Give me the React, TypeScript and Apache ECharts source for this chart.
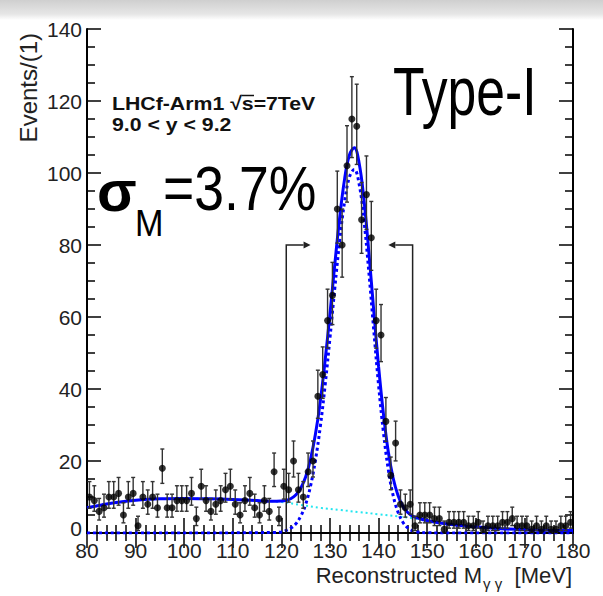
import React, { useEffect, useRef } from 'react';
import * as echarts from 'echarts';

// ---- data ----
const binStart = 80;
const binWidth = 1;
// events per 1 MeV bin, bins 80-81 ... 179-180
const counts = [
  10, 9, 6, 7, 10, 10, 11, 5, 10, 11,
  2, 10, 8, 10, 7, 18, 7, 7, 9, 9,
  9, 11, 4, 13, 9, 6, 8, 9, 12, 13,
  8, 5, 9, 11, 7, 5, 9, 6, 17, 4,
  13, 12, 20, 12, 10, 17, 20, 38, 44, 59,
  66, 90, 80, 102, 115, 113, 87, 94, 82, 59,
  55, 31, 16, 25, 8, 7, 8, 2, 5, 5,
  5, 4, 4, 1, 3, 3, 3, 3, 2, 2,
  3, 1, 2, 2, 2, 3, 3, 4, 2, 2,
  2, 1, 2, 1, 2, 1, 1, 2, 2, 3,
];

// background component (cyan dotted)
const bgX = [80, 83, 86, 90, 95, 100, 105, 110, 115, 120, 124, 128, 132, 136, 140, 144, 147, 150, 153, 156, 160, 165, 170, 175, 180];
const bgY = [7.0, 7.8, 8.5, 9.1, 9.5, 9.6, 9.5, 9.3, 9.0, 8.6, 7.8, 7.0, 6.4, 5.8, 5.2, 4.6, 4.1, 3.4, 2.7, 2.2, 1.7, 1.2, 0.9, 0.75, 0.7];

// signal component (blue dotted)
const sigX = [80, 100, 119, 120, 121, 122, 123, 124, 125, 126, 127, 128, 129, 130, 131, 132, 133, 134, 135, 136, 137, 138, 139, 140, 141, 142, 143, 144, 145, 146, 147, 148, 150, 160, 180];
const sigY = [0, 0, 0.15, 0.3, 0.7, 1.4, 2.6, 4.7, 8.0, 13.1, 20.2, 29.5, 41.1, 54.3, 68.2, 81.3, 92.0, 98.9, 101.0, 96.9, 86.7, 72.4, 56.4, 41.0, 27.9, 17.6, 10.4, 5.8, 3.0, 1.4, 0.6, 0.3, 0.05, 0, 0];

// total fit (blue solid)
const totX = [80, 83, 86, 90, 95, 100, 105, 110, 115, 118, 120, 121, 122, 123, 124, 125, 126, 127, 128, 129, 130, 131, 132, 133, 134, 135, 136, 137, 138, 139, 140, 141, 142, 143, 144, 145, 146, 147, 148, 150, 153, 156, 160, 165, 170, 175, 180];
const totY = [7.0, 7.8, 8.5, 9.1, 9.5, 9.6, 9.5, 9.3, 9.0, 8.8, 8.9, 9.1, 9.6, 10.6, 12.5, 15.6, 20.5, 27.4, 36.5, 48.0, 61.0, 74.8, 87.7, 98.3, 105.0, 107.0, 102.7, 92.4, 77.9, 61.8, 46.2, 33.0, 22.5, 15.2, 10.4, 7.4, 5.7, 4.7, 4.2, 3.45, 2.7, 2.2, 1.7, 1.2, 0.9, 0.75, 0.7];

// signal window markers
const windowEdges = [121, 147];
const windowDirs = [1, -1];
const windowHeight = 80;
const arrowLength = 5;

// axes
const xMin = 80, xMax = 180, xStep = 10;
const yMin = 0, yMax = 140, yStep = 20;

const FONT = 'Liberation Sans, Arial, Helvetica, sans-serif';

function poissonLow(n: number) {
  return n - Math.sqrt(Math.max(n - 0.25, 0));
}
function poissonHigh(n: number) {
  return n + 1 + Math.sqrt(n + 0.75);
}

export default function App() {
  const ref = useRef<HTMLDivElement>(null);

  useEffect(() => {
    if (!ref.current) return;
    const chart = echarts.init(ref.current, undefined, { renderer: 'svg' });

    const points = counts.map((c, i) => [binStart + binWidth * (i + 0.5), c]);
    const errs = counts.map((c, i) => [binStart + binWidth * (i + 0.5), poissonLow(c), poissonHigh(c)]);
    const pair = (xs: number[], ys: number[]) => xs.map((x, i) => [x, ys[i]]);
    const windowData = windowEdges.map((x, i) => [x, windowHeight, windowDirs[i]]);

    const axisLine = { show: true, lineStyle: { color: '#000', width: 2 } };
    const xTick = { show: true, inside: true, length: 15, lineStyle: { color: '#000', width: 1.5 } };
    const xMinor = { show: true, splitNumber: 5, length: 8, lineStyle: { color: '#000', width: 1.5 } };
    const yTick = { show: true, inside: true, length: 14, lineStyle: { color: '#000', width: 1.5 } };
    const yMinor = { show: true, splitNumber: 4, length: 8, lineStyle: { color: '#000', width: 1.5 } };

    const option: any = {
      animation: false,
      backgroundColor: '#fff',
      textStyle: { fontFamily: FONT },
      grid: { left: 87, top: 29, width: 486, height: 504, containLabel: false },
      xAxis: [
        {
          type: 'value', min: xMin, max: xMax, interval: xStep, position: 'bottom',
          axisLine, axisTick: xTick, minorTick: xMinor, splitLine: { show: false },
          axisLabel: { fontSize: 21, lineHeight: 16, color: '#222', margin: 9.5, fontFamily: FONT },
        },
        {
          type: 'value', min: xMin, max: xMax, interval: xStep, position: 'top',
          axisLine, axisTick: xTick, minorTick: xMinor, splitLine: { show: false },
          axisLabel: { show: false },
        },
      ],
      yAxis: [
        {
          type: 'value', min: yMin, max: yMax, interval: yStep, position: 'left',
          axisLine, axisTick: yTick, minorTick: yMinor, splitLine: { show: false },
          axisLabel: {
            fontSize: 21, lineHeight: 14, color: '#222', margin: 5, fontFamily: FONT,
            formatter: (v: number) => (v === 0 ? '{z|0}' : String(v)),
            rich: { z: { fontSize: 21, lineHeight: 14, color: '#222', fontFamily: FONT, padding: [0, 0, 10, 0] } },
          },
        },
        {
          type: 'value', min: yMin, max: yMax, interval: yStep, position: 'right',
          axisLine, axisTick: yTick, minorTick: yMinor, splitLine: { show: false },
          axisLabel: { show: false },
        },
      ],
      series: [
        {
          type: 'line', name: 'background', data: pair(bgX, bgY), showSymbol: false, smooth: 0.4,
          lineStyle: { color: '#22e6f0', width: 2, type: [2, 3] }, z: 1, silent: true,
        },
        {
          type: 'line', name: 'signal', data: pair(sigX, sigY), showSymbol: false, smooth: 0.4,
          lineStyle: { color: '#0000ff', width: 3, type: [3, 3] }, z: 2, silent: true,
        },
        {
          type: 'line', name: 'total', data: pair(totX, totY), showSymbol: false, smooth: 0.4,
          lineStyle: { color: '#0000ff', width: 3 }, z: 3, silent: true,
        },
        {
          type: 'custom', name: 'window', data: windowData, z: 4, silent: true,
          encode: { x: 0, y: 1 },
          renderItem: (params: any, api: any) => {
            const x = api.value(0), h = api.value(1), dir = api.value(2);
            const p0 = api.coord([x, 0]);
            const p1 = api.coord([x, h]);
            const p2 = api.coord([x + dir * arrowLength, h]);
            const head = 7, hw = 3.5;
            const shaftEnd = [p2[0] - dir * head, p2[1]];
            return {
              type: 'group',
              children: [
                { type: 'polyline', shape: { points: [p0, p1, shaftEnd] }, style: { stroke: '#222', lineWidth: 1.5, fill: 'none' } },
                { type: 'polygon', shape: { points: [[p2[0], p2[1]], [p2[0] - dir * head, p2[1] - hw], [p2[0] - dir * head, p2[1] + hw]] }, style: { fill: '#222' } },
              ],
            };
          },
        },
        {
          type: 'custom', name: 'errors', data: errs, z: 5, silent: true,
          encode: { x: 0, y: [1, 2] },
          renderItem: (params: any, api: any) => {
            const x = api.value(0), lo = api.value(1), hi = api.value(2);
            const a = api.coord([x, lo]);
            const b = api.coord([x, hi]);
            const cap = 2;
            const st = { stroke: '#333', lineWidth: 1.4 };
            return {
              type: 'group',
              children: [
                { type: 'line', shape: { x1: a[0], y1: a[1], x2: b[0], y2: b[1] }, style: st },
                { type: 'line', shape: { x1: b[0] - cap, y1: b[1], x2: b[0] + cap, y2: b[1] }, style: st },
                { type: 'line', shape: { x1: a[0] - cap, y1: a[1], x2: a[0] + cap, y2: a[1] }, style: st },
              ],
            };
          },
        },
        {
          type: 'scatter', name: 'data', data: points, symbol: 'circle', symbolSize: 7,
          itemStyle: { color: '#000' }, z: 6, silent: true,
        },
      ],
      graphic: [
        {
          type: 'rect', z: -10, shape: { x: 0, y: 0, width: 603, height: 20 },
          style: {
            fill: new echarts.graphic.LinearGradient(0, 0, 0, 1, [
              { offset: 0, color: '#cfcfcf' },
              { offset: 0.7, color: '#e6e6e6' },
              { offset: 1, color: '#ffffff' },
            ]),
          },
          silent: true,
        },
        {
          type: 'text', x: 28, y: 33, rotation: Math.PI / 2,
          style: { text: 'Events/(1)', fontSize: 24, fontFamily: FONT, fill: '#222', align: 'right', verticalAlign: 'middle' },
        },
        {
          type: 'text', x: 482, y: 575,
          style: { text: 'Reconstructed M', fontSize: 22, fontFamily: FONT, fill: '#222', align: 'right', verticalAlign: 'middle' },
        },
        {
          type: 'text', x: 483, y: 583,
          style: { text: 'γ γ', fontSize: 15, fontFamily: FONT, fill: '#222', align: 'left', verticalAlign: 'middle' },
        },
        {
          type: 'text', x: 572, y: 575,
          style: { text: '[MeV]', fontSize: 22, fontFamily: FONT, fill: '#222', align: 'right', verticalAlign: 'middle' },
        },
        {
          type: 'text', x: 112, y: 103, scaleX: 1.12,
          style: { text: 'LHCf-Arm1 √s=7TeV', fontSize: 19, fontWeight: 'bold', fontFamily: FONT, fill: '#111', align: 'left', verticalAlign: 'middle' },
        },
        {
          type: 'line', shape: { x1: 241.5, y1: 95.5, x2: 254, y2: 95.5 }, style: { stroke: '#111', lineWidth: 1.5 },
        },
        {
          type: 'text', x: 112, y: 124.3, scaleX: 1.12,
          style: { text: '9.0 < y < 9.2', fontSize: 19, fontWeight: 'bold', fontFamily: FONT, fill: '#111', align: 'left', verticalAlign: 'middle' },
        },
        {
          type: 'text', x: 393, y: 91, scaleX: 0.76,
          style: { text: 'Type-I', fontSize: 68, fontFamily: FONT, fill: '#000', align: 'left', verticalAlign: 'middle' },
        },
        {
          type: 'text', x: 97, y: 190,
          style: { text: 'σ', fontSize: 58, fontWeight: 'bold', fontFamily: FONT, fill: '#000', align: 'left', verticalAlign: 'middle' },
        },
        {
          type: 'text', x: 135, y: 223, scaleX: 0.95,
          style: { text: 'M', fontSize: 36, fontFamily: FONT, fill: '#000', align: 'left', verticalAlign: 'middle' },
        },
        {
          type: 'text', x: 163, y: 188, scaleX: 0.85,
          style: { text: '=3.7%', fontSize: 63, fontFamily: FONT, fill: '#000', align: 'left', verticalAlign: 'middle' },
        },
      ],
    };

    chart.setOption(option);
    return () => chart.dispose();
  }, []);

  return (
    <div
      ref={ref}
      style={{ position: 'fixed', left: 0, top: 0, width: 603, height: 596, background: '#fff' }}
    />
  );
}
